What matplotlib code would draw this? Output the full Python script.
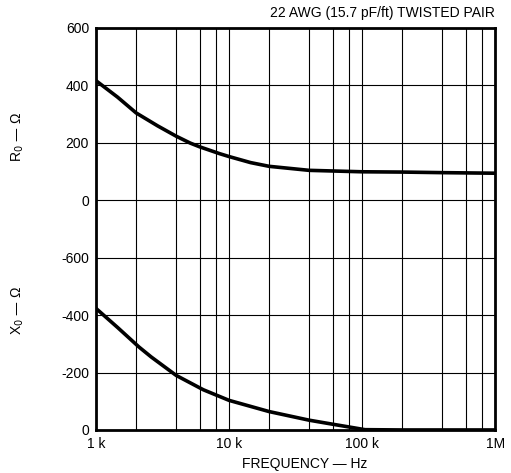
import matplotlib
matplotlib.use('Agg')
import matplotlib.pyplot as plt
import numpy as np

plt.rcParams['font.family'] = ['Liberation Sans', 'DejaVu Sans']

# frequency points (Hz)
freq = [1e3, 1.45e3, 2e3, 2.9e3, 4e3, 5.1e3, 6e3, 8.5e3, 1e4, 1.45e4, 2e4,
        4e4, 1e5, 2e5, 4e5, 1e6]
# characteristic resistance R0 (ohm)
r0 = [416, 359, 304, 259, 223, 199, 186, 162, 152, 131, 118,
      104, 99, 98, 96, 94]

freq_x = [1e3, 1.45e3, 2.1e3, 2.6e3, 4e3, 6.4e3, 1e4, 2e4, 4e4, 6e4, 8.3e4,
          1.05e5, 2e5, 4e5, 1e6]
# characteristic reactance X0 (ohm)
x0 = [-423, -357, -289, -254, -190, -140, -103, -64, -34, -20, -9,
      -1, 0, 0, 0]

ytick_labels = ['0', '-200', '-400', '-600', '0', '200', '400', '600']
xtick_vals = [1e3, 1e4, 1e5, 1e6]
xtick_labels = ['1 k', '10 k', '100 k', '1M']

fig = plt.figure(figsize=(5.11, 4.73), dpi=100)
ax = fig.add_axes([0.188, 0.091, 0.781, 0.850])

# two panels stacked in one frame: R0 in the top band, X0 in the bottom band
ax.plot(freq, 4 + np.array(r0) / 200.0, color='black', lw=2.6,
        solid_joinstyle='round')
ax.plot(freq_x, -np.array(x0) / 200.0, color='black', lw=2.6,
        solid_joinstyle='round')

ax.set_xscale('log')
ax.set_xlim(1e3, 1e6)
ax.set_ylim(0, 7)

ax.set_yticks(range(8))
ax.set_yticklabels(ytick_labels)
ax.set_xticks(xtick_vals)
ax.set_xticklabels(xtick_labels)
ax.xaxis.set_minor_locator(matplotlib.ticker.LogLocator(base=10, subs=[2, 4, 6, 8]))
ax.xaxis.set_minor_formatter(matplotlib.ticker.NullFormatter())
ax.tick_params(which='both', length=0, labelsize=10, pad=5)

ax.grid(True, which='both', axis='x', color='black', lw=0.8)
ax.grid(True, which='major', axis='y', color='black', lw=0.8)
for s in ax.spines.values():
    s.set_linewidth(2)

fig.text(0.597, 0.019, 'FREQUENCY — Hz', ha='center', va='center', fontsize=10)
fig.text(0.035, 0.71, r'R$_0$ — Ω', rotation=90, ha='center', va='center', fontsize=10)
fig.text(0.035, 0.345, r'X$_0$ — Ω', rotation=90, ha='center', va='center', fontsize=10)
fig.text(0.969, 0.972, '22 AWG (15.7 pF/ft) TWISTED PAIR', ha='right', va='center', fontsize=10)

fig.savefig('out.png', dpi=100)
